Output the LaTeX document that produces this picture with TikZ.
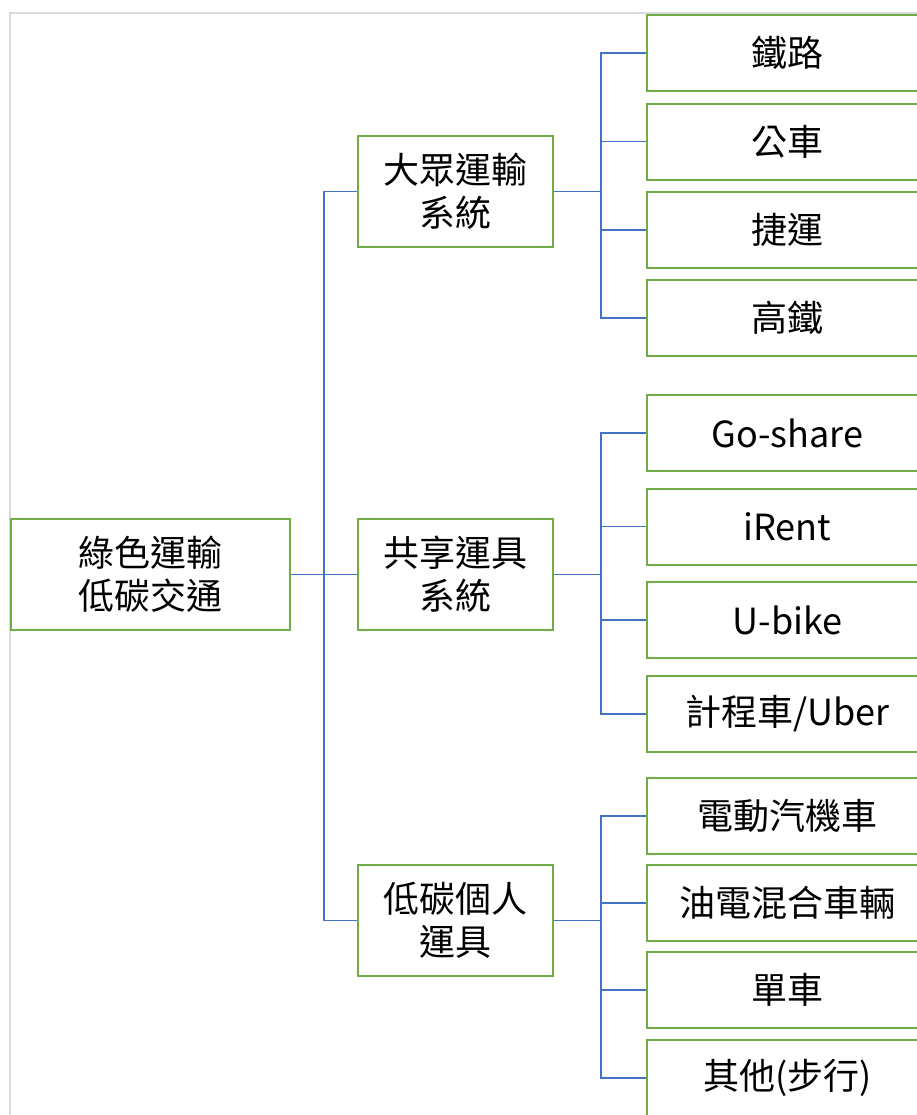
\documentclass[tikz,border=0pt]{standalone}
\usepackage{fontspec}
\setmainfont{Noto Sans CJK TC}
\definecolor{boxgreen}{HTML}{70AD47}
\definecolor{linkblue}{HTML}{4472C4}
\definecolor{framegrey}{HTML}{D9D9D9}
\begin{document}
\begin{tikzpicture}[x=0.75pt,y=-0.75pt,
  box/.style={draw=boxgreen,line width=1.5pt,fill=white,inner sep=0pt,align=center,
    font=\fontsize{27}{32}\selectfont},
  rootbox/.style={box,minimum width=209pt,minimum height=83pt},
  midbox/.style={box,minimum width=146pt,minimum height=83pt},
  leafbox/.style={box,minimum width=211pt,minimum height=57pt},
  conn/.style={draw=linkblue,line width=0.8pt}]
\useasboundingbox (0,0) rectangle (917,1115);
\begin{scope}
\clip (0,0) rectangle (917,1115);
\draw[framegrey,line width=1.5pt] (10,13) rectangle (940,1140);
\coordinate (sp) at (324,0);
\coordinate (sa) at (601,0);
\coordinate (sb) at (601,0);
\coordinate (sc) at (601,0);
\node[rootbox] (root) at (150.5,574.5) {綠色運輸\\低碳交通};
\node[midbox] (m1) at (455.5,191.5) {大眾運輸\\系統};
\node[midbox] (m2) at (455.5,574.5) {共享運具\\系統};
\node[midbox] (m3) at (455.5,920.5) {低碳個人\\運具};
\node[leafbox] (a1) at (787.5,53) {鐵路};
\node[leafbox] (a2) at (787.5,141.5) {公車};
\node[leafbox] (a3) at (787.5,230) {捷運};
\node[leafbox] (a4) at (787.5,318) {高鐵};
\node[leafbox] (b1) at (787.5,433) {Go-share};
\node[leafbox] (b2) at (787.5,526.5) {iRent};
\node[leafbox] (b3) at (787.5,620) {U-bike};
\node[leafbox] (b4) at (787.5,714) {計程車/Uber};
\node[leafbox] (c1) at (787.5,816) {電動汽機車};
\node[leafbox] (c2) at (787.5,903) {油電混合車輛};
\node[leafbox] (c3) at (787.5,990) {單車};
\node[leafbox] (c4) at (787.5,1078) {其他(步行)};
\foreach \m in {m1,m2,m3}
  \draw[conn] (root.east) -- (root.east -| sp) |- (\m.west);
\foreach \l in {a1,a2,a3,a4}
  \draw[conn] (m1.east) -- (m1.east -| sa) |- (\l.west);
\foreach \l in {b1,b2,b3,b4}
  \draw[conn] (m2.east) -- (m2.east -| sb) |- (\l.west);
\foreach \l in {c1,c2,c3,c4}
  \draw[conn] (m3.east) -- (m3.east -| sc) |- (\l.west);
\end{scope}
\end{tikzpicture}
\end{document}
